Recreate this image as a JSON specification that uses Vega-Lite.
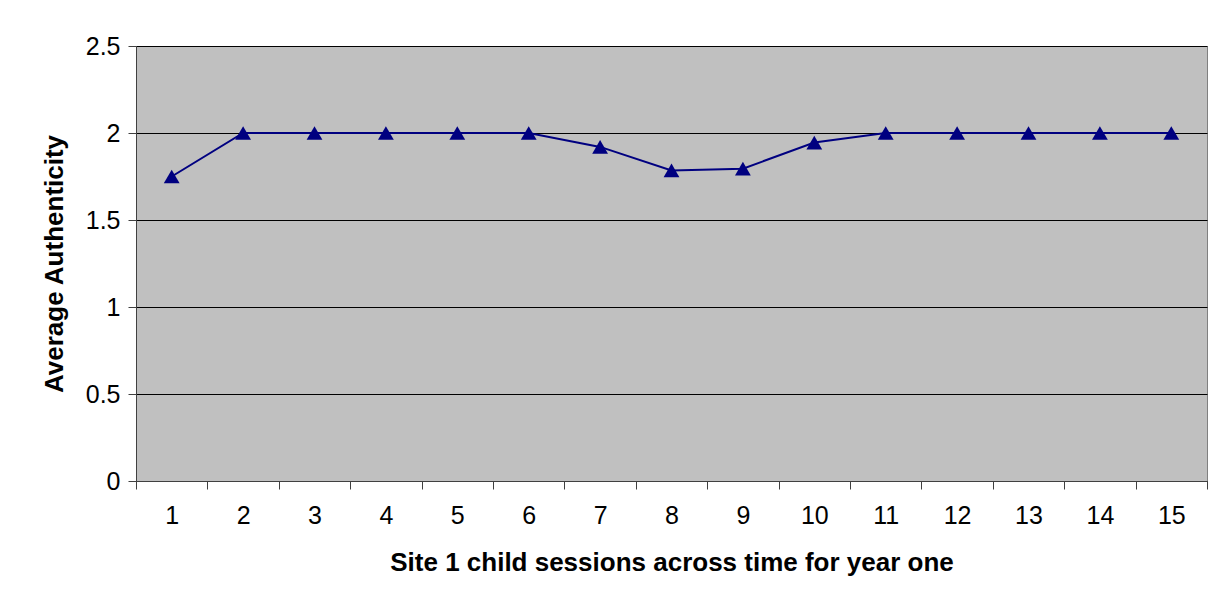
{
  "$schema": "https://vega.github.io/schema/vega-lite/v6.json",
  "width": 1071,
  "height": 435,
  "autosize": {"type": "none"},
  "padding": {"left": 136, "top": 46, "right": 17, "bottom": 128},
  "background": "white",
  "config": {
    "view": {"fill": "#C0C0C0", "stroke": "#808080", "strokeWidth": 1},
    "font": "Liberation Sans"
  },
  "data": {
    "values": [
      {"session": 1, "value": 1.75},
      {"session": 2, "value": 2.0},
      {"session": 3, "value": 2.0},
      {"session": 4, "value": 2.0},
      {"session": 5, "value": 2.0},
      {"session": 6, "value": 2.0},
      {"session": 7, "value": 1.92},
      {"session": 8, "value": 1.785},
      {"session": 9, "value": 1.795},
      {"session": 10, "value": 1.945},
      {"session": 11, "value": 2.0},
      {"session": 12, "value": 2.0},
      {"session": 13, "value": 2.0},
      {"session": 14, "value": 2.0},
      {"session": 15, "value": 2.0}
    ]
  },
  "encoding": {
    "x": {
      "field": "session",
      "type": "ordinal",
      "scale": {"paddingInner": 0, "paddingOuter": 0},
      "axis": {
        "title": "Site 1 child sessions across time for year one",
        "titleFontSize": 26,
        "titleFontWeight": "bold",
        "titleColor": "black",
        "titlePadding": 21,
        "labelAngle": 0,
        "labelFontSize": 25,
        "labelColor": "black",
        "labelPadding": 14,
        "tickBand": "extent",
        "tickSize": 8,
        "tickColor": "#404040",
        "domainColor": "#404040",
        "grid": false
      }
    },
    "y": {
      "field": "value",
      "type": "quantitative",
      "scale": {"domain": [0, 2.5], "nice": false},
      "axis": {
        "title": "Average Authenticity",
        "titleFontSize": 26,
        "titleFontWeight": "bold",
        "titleColor": "black",
        "titlePadding": 18,
        "values": [0, 0.5, 1, 1.5, 2, 2.5],
        "format": "~g",
        "labelFontSize": 25,
        "labelColor": "black",
        "labelPadding": 8,
        "tickSize": 8,
        "tickColor": "#404040",
        "domainColor": "#404040",
        "grid": true,
        "gridColor": "black",
        "gridOpacity": 1,
        "gridWidth": 1
      }
    }
  },
  "layer": [
    {"mark": {"type": "line", "color": "#000080", "strokeWidth": 2}},
    {"mark": {"type": "point", "shape": "triangle-up", "filled": true, "color": "#000080", "opacity": 1, "size": 250}}
  ]
}
